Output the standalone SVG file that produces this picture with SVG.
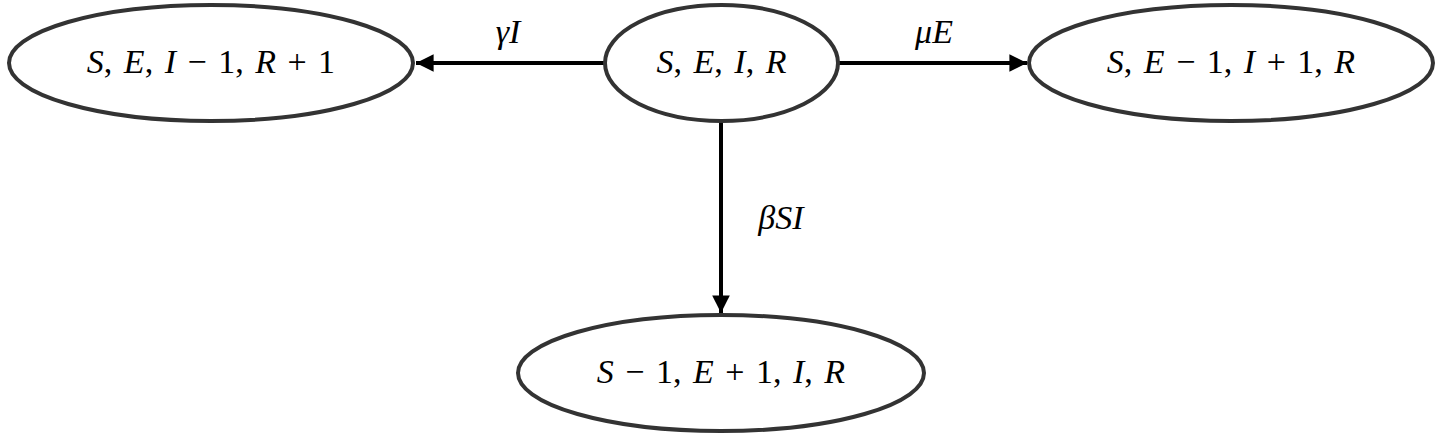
<svg xmlns="http://www.w3.org/2000/svg" width="1440" height="440" viewBox="0 0 1440 440" font-family="Liberation Serif, serif">
<style>
.node ellipse{fill:#fff;stroke:#333;stroke-width:4}
text{font-family:'Liberation Serif',serif;font-size:34px;fill:#000;text-anchor:middle;word-spacing:3px}
.i{font-style:italic}
.edge{stroke:#000;stroke-width:4;fill:none}
</style>
<defs>
<marker id="ah" viewBox="0 0 10 10" refX="10" refY="5" markerWidth="5" markerHeight="4.4" markerUnits="strokeWidth" orient="auto">
<path d="M0,0 L10,5 L0,10 z" fill="#000"/>
</marker>
</defs>
<rect width="1440" height="440" fill="#fff"/>
<g id="connectors">
<line class="edge" x1="605" y1="63" x2="416" y2="63" marker-end="url(#ah)"/>
<line class="edge" x1="838" y1="63" x2="1027" y2="63" marker-end="url(#ah)"/>
<line class="edge" x1="721" y1="122" x2="721" y2="313" marker-end="url(#ah)"/>
<text x="508" y="43"><tspan class="i">γI</tspan></text>
<text x="934" y="43"><tspan class="i">μE</tspan></text>
<text x="781" y="229"><tspan class="i">βSI</tspan></text>
</g>
<g id="n_center" class="node">
<ellipse cx="721.5" cy="63" rx="116.5" ry="58"/>
<text x="721.5" y="73"><tspan class="i">S</tspan>, <tspan class="i">E</tspan>, <tspan class="i">I</tspan>, <tspan class="i">R</tspan></text>
</g>
<g id="n_left" class="node">
<ellipse cx="211" cy="63" rx="202" ry="58"/>
<text x="211" y="73"><tspan class="i">S</tspan>, <tspan class="i">E</tspan>, <tspan class="i">I</tspan> − 1, <tspan class="i">R</tspan> + 1</text>
</g>
<g id="n_right" class="node">
<ellipse cx="1231" cy="63" rx="202" ry="58"/>
<text x="1231" y="73"><tspan class="i">S</tspan>, <tspan class="i">E</tspan> − 1, <tspan class="i">I</tspan> + 1, <tspan class="i">R</tspan></text>
</g>
<g id="n_bottom" class="node">
<ellipse cx="721" cy="373" rx="203" ry="58"/>
<text x="721" y="383"><tspan class="i">S</tspan> − 1, <tspan class="i">E</tspan> + 1, <tspan class="i">I</tspan>, <tspan class="i">R</tspan></text>
</g>
</svg>
